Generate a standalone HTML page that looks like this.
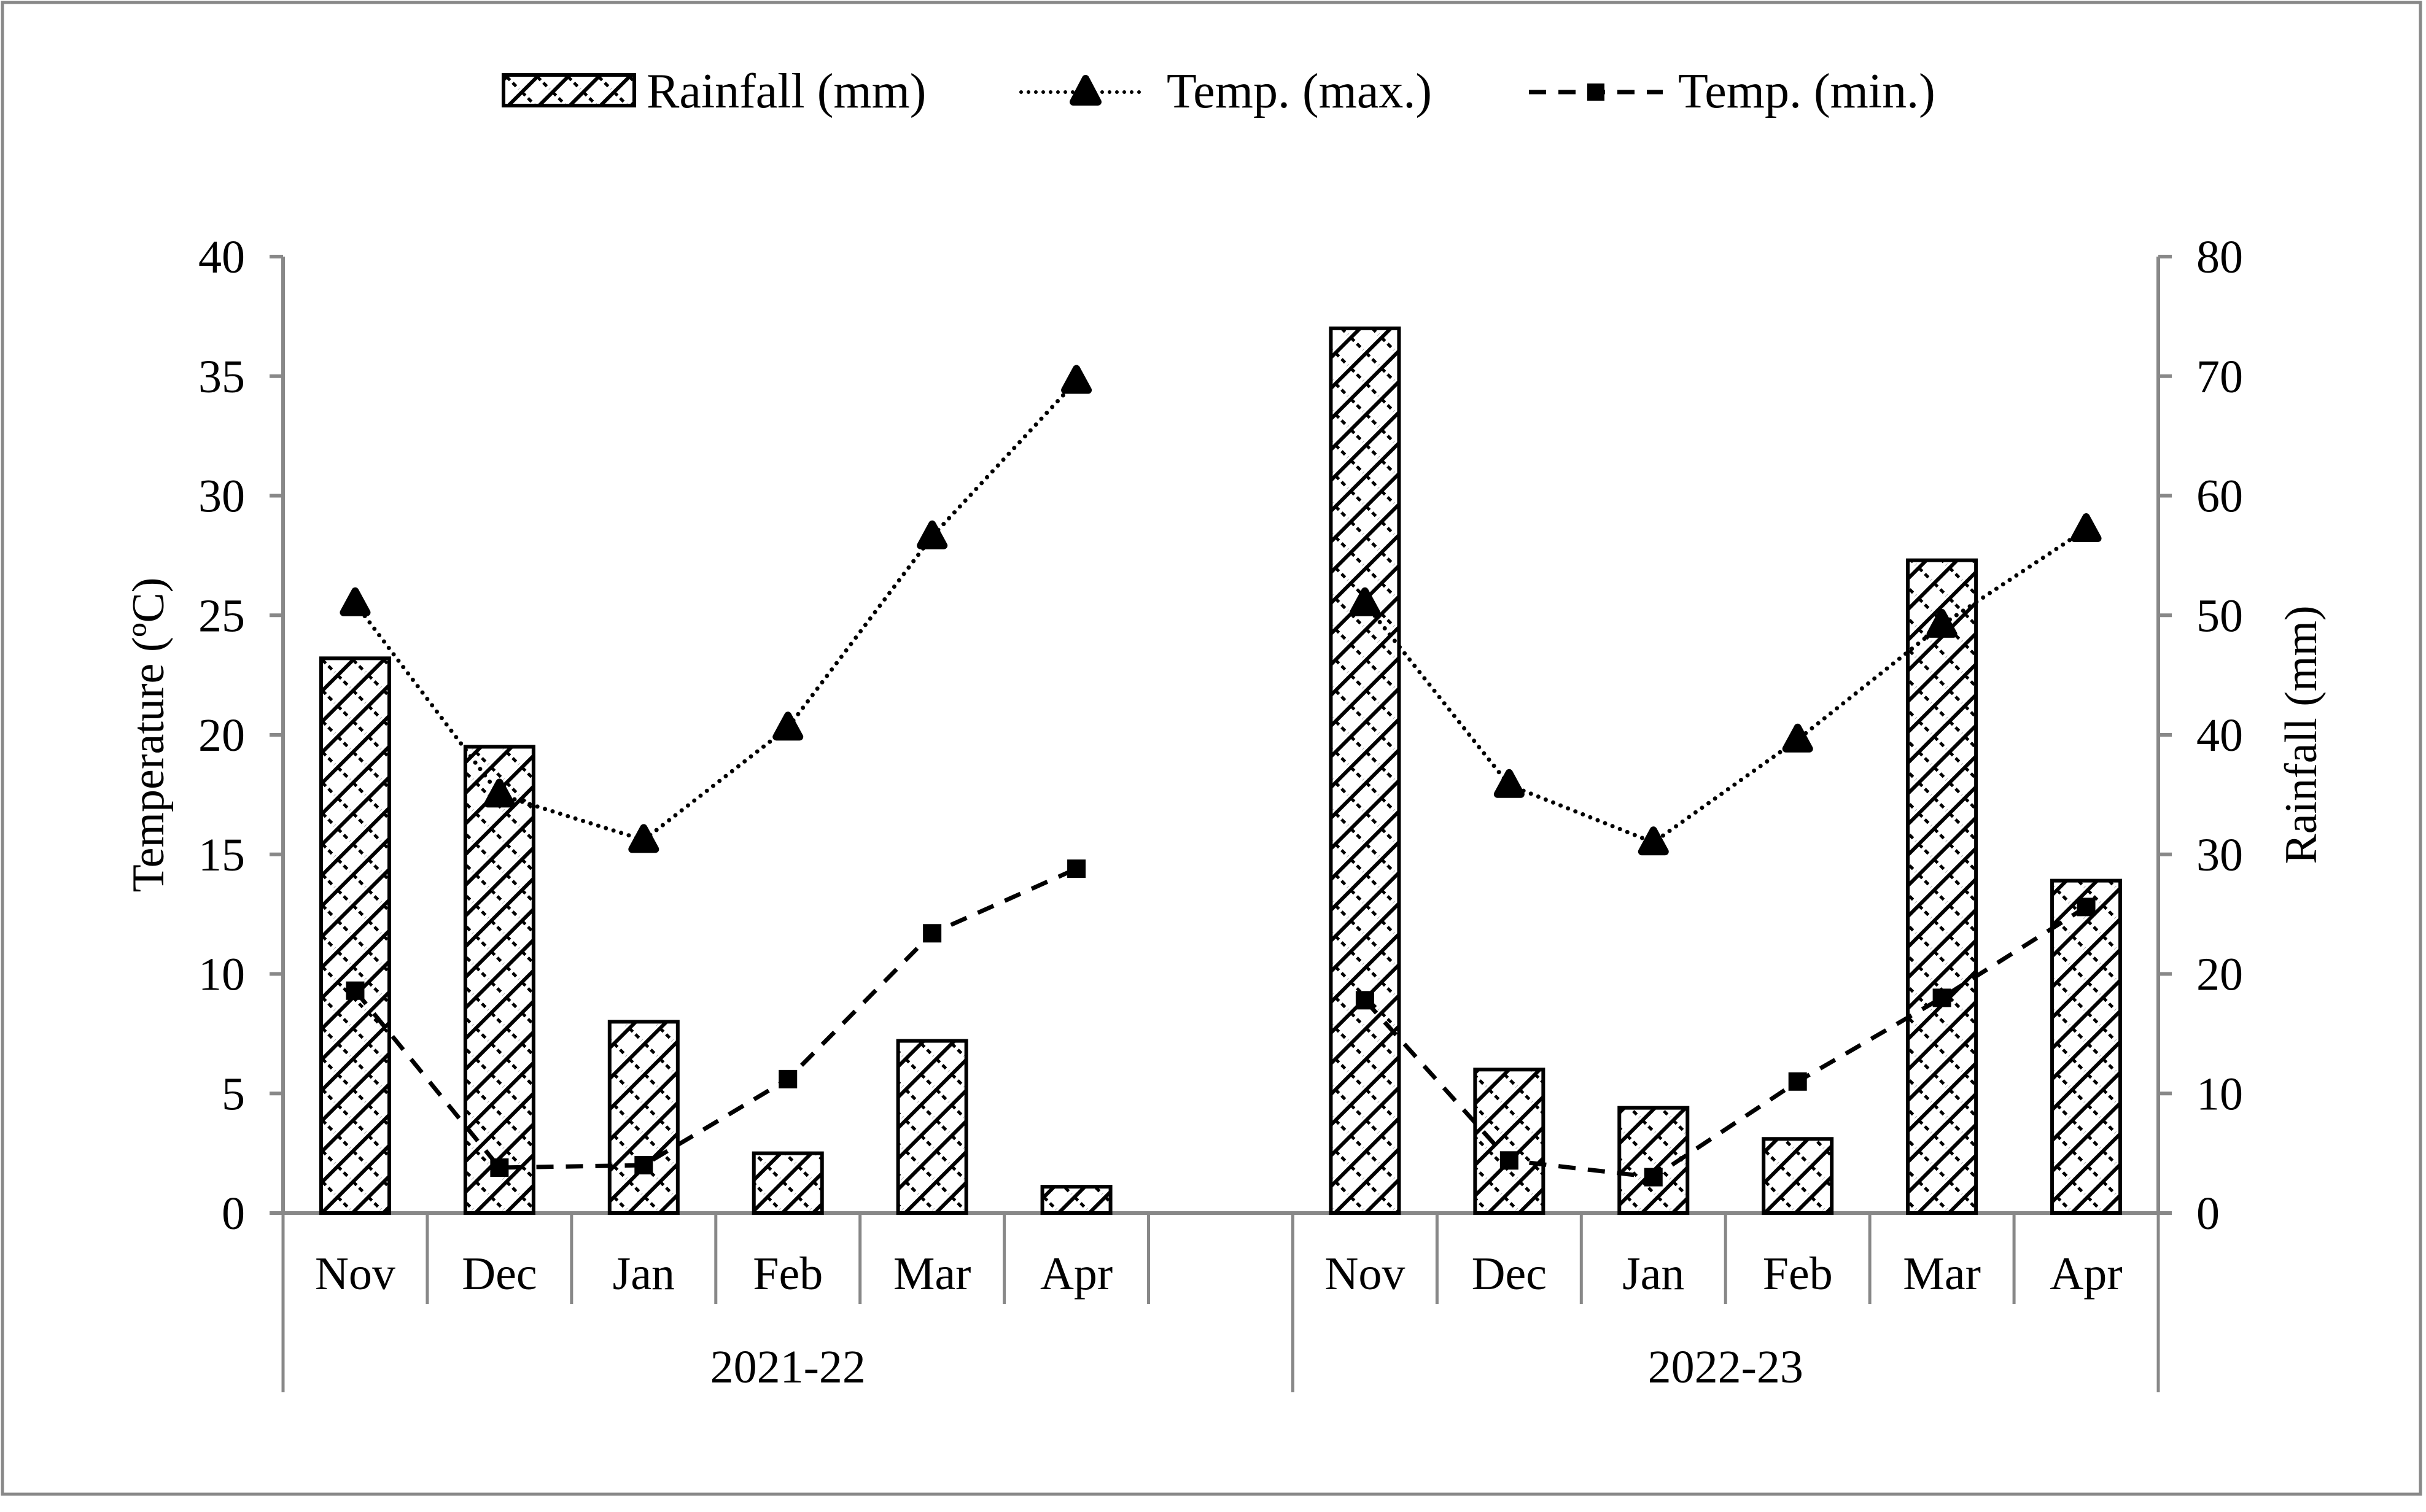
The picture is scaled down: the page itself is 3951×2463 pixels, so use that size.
<!DOCTYPE html>
<html><head><meta charset="utf-8"><style>
html,body{margin:0;padding:0;background:#fff}
svg{display:block}
text{font-family:"Liberation Serif","Times New Roman",serif;fill:#000}
</style></head><body>
<svg id="chart" width="3951" height="2463" viewBox="0 0 3951 2463" xmlns="http://www.w3.org/2000/svg">
<defs>
<pattern id="hatch" patternUnits="userSpaceOnUse" width="50" height="50">
<path d="M0,50 L50,0 M-10,10 L10,-10 M40,60 L60,40" stroke="#000" stroke-width="6" fill="none"/>
<path d="M0,0 L20,20 M25,25 L45,45" stroke="#000" stroke-width="5" fill="none" stroke-dasharray="8,6"/>
</pattern>
</defs>
<rect x="4" y="4" width="3938" height="2430" fill="#fff" stroke="#888" stroke-width="5"/>
<g id="legend">
<rect x="820" y="122" width="213" height="50" fill="url(#hatch)" stroke="#000" stroke-width="6"/>
<text x="1053" y="175" font-size="80">Rainfall (mm)</text>
<line x1="1663" y1="150" x2="1865" y2="150" stroke="#000" stroke-width="6" stroke-dasharray="0,12" stroke-linecap="round"/>
<path d="M1768,128 L1788,166 L1748,166 Z" fill="#000" stroke="#000" stroke-width="12" stroke-linejoin="round"/>
<text x="1900" y="175" font-size="80">Temp. (max.)</text>
<line x1="2490" y1="150" x2="2708" y2="150" stroke="#000" stroke-width="7" stroke-dasharray="28,20"/>
<rect x="2585" y="136" width="28" height="28" fill="#000"/>
<text x="2733" y="175" font-size="80">Temp. (min.)</text>
</g>
<g id="axes"></g>
<g id="bars"></g>
<g id="lines"></g>
<text transform="translate(266,1197) rotate(-90)" text-anchor="middle" font-size="74">Temperature (ºC)</text>
<text transform="translate(3772,1197) rotate(-90)" text-anchor="middle" font-size="74">Rainfall (mm)</text>
</svg>
<script>
const months = ["Nov","Dec","Jan","Feb","Mar","Apr"];
const years = ["2021-22","2022-23"];
const rain2122 = [46.4,39,16,5,14.4,2.2];
const rain2223 = [74,12,8.8,6.2,54.6,27.8];
const tmax2122 = [25.5,17.5,15.6,20.3,28.3,34.8];
const tmax2223 = [25.5,17.9,15.5,19.8,24.6,28.6];
const tmin2122 = [9.3,1.9,2.0,5.6,11.7,14.4];
const tmin2223 = [8.9,2.2,1.5,5.5,9.0,12.8];
const leftTicks = [0,5,10,15,20,25,30,35,40];
const rightTicks = [0,10,20,30,40,50,60,70,80];

const NS="http://www.w3.org/2000/svg";
const X0=461,X1=3515,Y0=1976,Y1=418,NSLOT=13,SW=(X1-X0)/NSLOT;
const yT=v=>Y0-(v/40)*(Y0-Y1);
const yR=v=>Y0-(v/80)*(Y0-Y1);
const slotX=(yi,mi)=>X0+SW*(yi*7+mi+0.5);
function mk(tag,attrs,parent){const e=document.createElementNS(NS,tag);for(const k in attrs)e.setAttribute(k,attrs[k]);parent.appendChild(e);return e;}
const axes=document.getElementById('axes'),bars=document.getElementById('bars'),lines=document.getElementById('lines');
const G="#888";
let e;
e=mk('line',{x1:X0,y1:Y1,x2:X0,y2:Y0,stroke:G,'stroke-width':6},axes);


e=mk('line',{x1:X1,y1:Y1,x2:X1,y2:Y0,stroke:G,'stroke-width':6},axes);


e=mk('line',{x1:X0-22,y1:Y0,x2:X1+22,y2:Y0,stroke:G,'stroke-width':6},axes);


leftTicks.forEach(v=>{
  e=mk('line',{x1:X0-22,y1:yT(v),x2:X0,y2:yT(v),stroke:G,'stroke-width':6},axes);
  
  
  e=mk('text',{x:X0-62,y:yT(v)+26,'text-anchor':'end','font-size':76},axes);e.textContent=v;
  
  
});
rightTicks.forEach(v=>{
  e=mk('line',{x1:X1,y1:yR(v),x2:X1+22,y2:yR(v),stroke:G,'stroke-width':6},axes);
  
  
  e=mk('text',{x:X1+62,y:yR(v)+26,'text-anchor':'start','font-size':76},axes);e.textContent=v;
  
  
});
for(let i=0;i<=NSLOT;i++){
  const x=X0+SW*i;const long=(i===0||i===7||i===13);
  e=mk('line',{x1:x,y1:Y0,x2:x,y2:long?2268:2124,stroke:G,'stroke-width':5},axes);
  
  
}
years.forEach((yr,yi)=>{
  months.forEach((m,mi)=>{
    e=mk('text',{x:slotX(yi,mi),y:2100,'text-anchor':'middle','font-size':76},axes);e.textContent=m;
    
    
  });
  e=mk('text',{x:X0+SW*(yi*7+(yi?3:3.5)),y:2252,'text-anchor':'middle','font-size':76},axes);e.textContent=yr;
  
  
});
const BW=111;
[rain2122,rain2223].forEach((arr,yi)=>arr.forEach((v,mi)=>{
  const x=slotX(yi,mi)-BW/2,y=yR(v);
  e=mk('rect',{x:x,y:y,width:BW,height:Y0-y,fill:'url(#hatch)',stroke:'#000','stroke-width':6},bars);
  
  
}));
[[tmax2122,0],[tmax2223,1]].forEach(([arr,yi])=>{
  const pts=arr.map((v,mi)=>slotX(yi,mi)+','+yT(v)).join(' ');
  e=mk('polyline',{points:pts,fill:'none',stroke:'#000','stroke-width':7,'stroke-dasharray':'0,13','stroke-linecap':'round'},lines);
  
  
  arr.forEach((v,mi)=>{const x=slotX(yi,mi),y=yT(v);
    e=mk('path',{d:`M${x},${y-20} L${x+19},${y+15} L${x-19},${y+15} Z`,fill:'#000',stroke:'#000','stroke-width':12,'stroke-linejoin':'round'},lines);
    
    
  });
});
[[tmin2122,0],[tmin2223,1]].forEach(([arr,yi])=>{
  const pts=arr.map((v,mi)=>slotX(yi,mi)+','+yT(v)).join(' ');
  e=mk('polyline',{points:pts,fill:'none',stroke:'#000','stroke-width':7,'stroke-dasharray':'28,20'},lines);
  
  
  arr.forEach((v,mi)=>{const x=slotX(yi,mi),y=yT(v);
    e=mk('rect',{x:x-15,y:y-15,width:30,height:30,fill:'#000'},lines);
    
    
  });
});
</script>
</body></html>
